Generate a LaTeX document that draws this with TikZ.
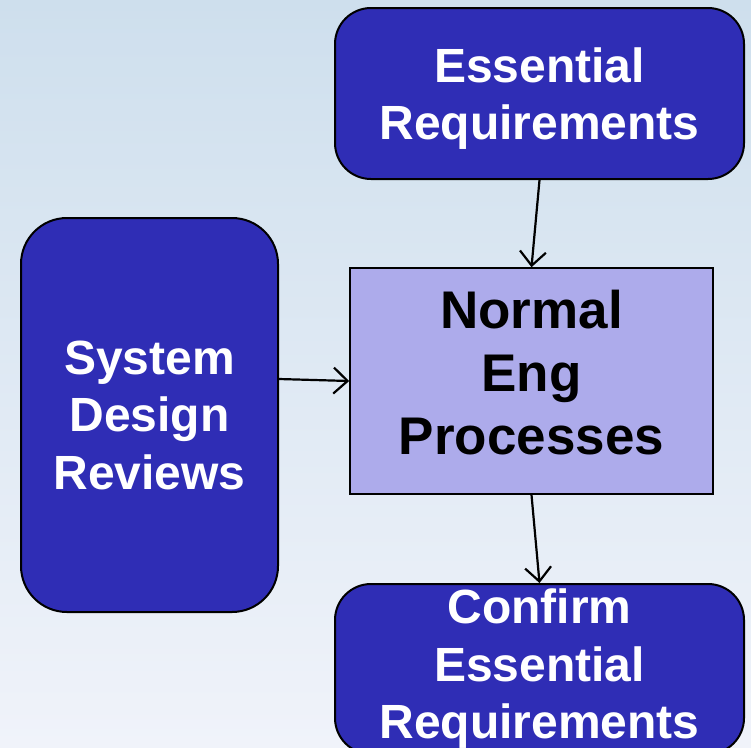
\documentclass[tikz,border=0pt]{standalone}
\usepackage{fontspec}
\setmainfont{Liberation Sans}
\usetikzlibrary{arrows.meta}
\definecolor{boxblue}{RGB}{47,45,181}
\definecolor{boxlight}{RGB}{173,171,235}
\definecolor{bgtop}{RGB}{206,223,237}
\definecolor{bgbot}{RGB}{240,243,250}
\tikzset{
  darkbox/.style={draw=black, line width=2pt, fill=boxblue, text=white,
    align=center, font=\bfseries\fontsize{48}{57.5}\selectfont, inner sep=0pt},
  procbox/.style={draw=black, line width=1.6pt, fill=boxlight, text=black,
    font=\bfseries\fontsize{53}{63}\selectfont, inner sep=0pt, rectangle},
  flow/.style={draw=black, line width=2.2pt,
    -{Straight Barb[length=14pt,width=26pt,line width=2.2pt]}}
}
\begin{document}
\begin{tikzpicture}[x=1pt,y=-1pt]
  \useasboundingbox (0,0) rectangle (751,747);
  \clip (0,0) rectangle (751,747);
  \shade[top color=bgtop, bottom color=bgbot] (0,0) rectangle (751,747);

  % rounded source/target boxes and the central process box
  \node[darkbox, rounded corners=36pt, minimum width=409pt, minimum height=171pt,
    text depth=0pt]
    (ess) at (539.5,93.5) {Essential\\Requirements};
  \node[darkbox, rounded corners=46pt, minimum width=257pt, minimum height=394pt]
    (sdr) at (149.5,415) {System\\Design\\Reviews};
  \node[procbox, minimum width=363pt, minimum height=226pt]
    (nep) at (531.5,381)
    {\raisebox{2pt}[0pt][0pt]{\parbox{300pt}{\centering Normal\\Eng\\Processes}}};
  \node[darkbox, rounded corners=36pt, minimum width=409pt, minimum height=170pt]
    (conf) at (539.5,669) {Confirm\\Essential\\Requirements};

  % connectors
  \draw[flow] (ess.south) -- (nep.north);
  \draw[flow] ([yshift=36pt]sdr.east) -- (nep.west);
  \draw[flow] (nep.south) -- (conf.north);
\end{tikzpicture}
\end{document}
